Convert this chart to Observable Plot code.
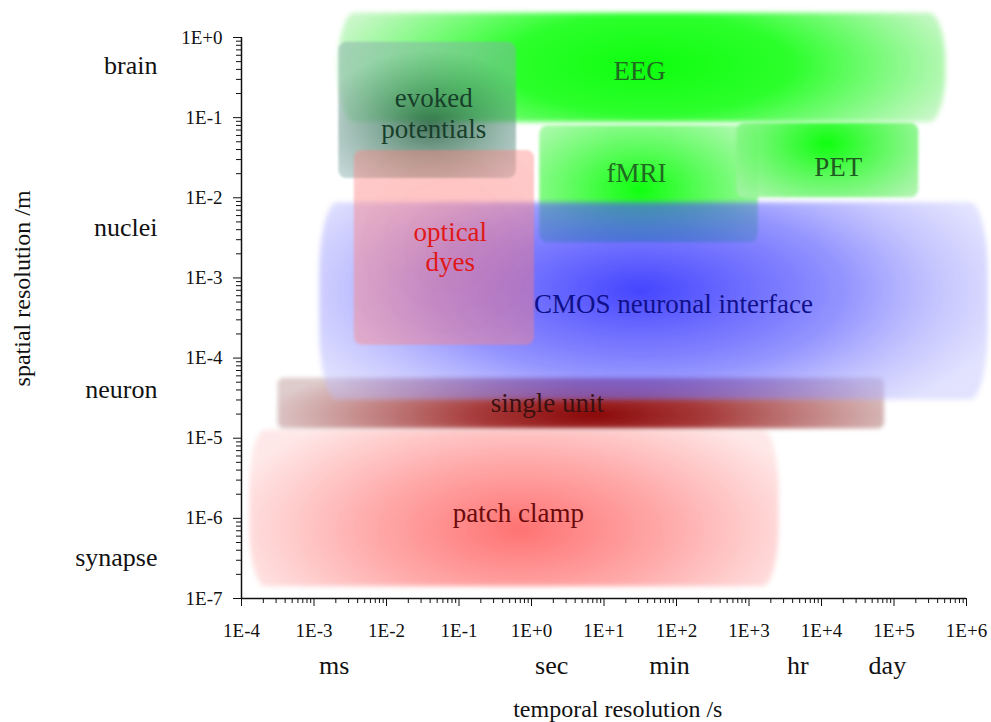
<!DOCTYPE html>
<html><head><meta charset="utf-8">
<script src="https://cdn.jsdelivr.net/npm/d3@7"></script>
<script src="https://cdn.jsdelivr.net/npm/@observablehq/plot@0.6"></script>
<style>html,body{margin:0;padding:0;background:#fff} svg text{font-family:'Liberation Serif','Times New Roman',serif}</style>
</head><body><div id="chart"></div>
<script>
// ---- data ----
const techniques = ["patch clamp", "single unit", "EEG", "fMRI", "PET", "evoked potentials", "CMOS neuronal interface", "optical dyes"];
const tStart = [1.3e-4, 3.2e-4, 2.2e-3, 1.3, 680, 2.2e-3, 1.2e-3, 3.6e-3];   // seconds
const tEnd   = [2.6e3, 7.4e4, 5.2e5, 1350, 2.2e5, 0.62, 2.0e6, 1.1];
const sLow   = [1.4e-7, 1.3e-5, 0.087, 2.75e-3, 0.01, 0.0174, 3.0e-5, 1.45e-4]; // metres
const sHigh  = [1.26e-5, 5.6e-5, 2.0, 0.079, 0.085, 0.87, 8.7e-3, 0.039];
const labelText = ["patch clamp", "single unit", "EEG", "fMRI", "PET", "evoked\npotentials", "CMOS neuronal interface", "optical\ndyes"];
const labelT = [0.66, 1.66, 31, 28, 1.7e4, 0.045, 91, 0.076];
const labelS = [1.2e-6, 2.8e-5, 0.39, 0.021, 0.025, 0.115, 4.8e-4, 2.5e-3];

const xTicks = [1e-4, 1e-3, 1e-2, 1e-1, 1e0, 1e1, 1e2, 1e3, 1e4, 1e5, 1e6];
const xTickLabels = ["1E-4", "1E-3", "1E-2", "1E-1", "1E+0", "1E+1", "1E+2", "1E+3", "1E+4", "1E+5", "1E+6"];
const yTicks = [1e-7, 1e-6, 1e-5, 1e-4, 1e-3, 1e-2, 1e-1, 1e0];
const yTickLabels = ["1E-7", "1E-6", "1E-5", "1E-4", "1E-3", "1E-2", "1E-1", "1E+0"];

const timeUnits = ["ms", "sec", "min", "hr", "day"];
const timeUnitPos = [1.9e-3, 1.9, 80, 4700, 8.1e4];
const scaleNames = ["brain", "nuclei", "neuron", "synapse"];
const scalePos = [0.45, 4.2e-3, 4.0e-5, 3.2e-7];

// ---- styles (kept apart from the data) ----
// gradient: centred on the label (+ pixel offset gdx/gdy), ellipse radii grx/gry, stops [offset, colour, opacity]
const look = {
  "patch clamp": {gdx: 2, gdy: 18, grx: 300, gry: 140, stops: [[0, "#ff6e6e", 0.97], [0.5, "#ffa6a6", 0.95], [1, "#ffe6e6", 0.92]], rx: 16, ry: 60, blur: 2.5, text: "#6a0a0a"},
  "single unit": {gdx: 45, gdy: 13, grx: 330, gry: 60, stops: [[0, "#8a0606", 1], [0.35, "#a43434", 0.97], [1, "#dcc8c8", 0.92]], rx: 6, ry: 6, blur: 2, text: "#3a1010"},
  "EEG": {gdx: 10, gdy: -5, grx: 320, gry: 110, stops: [[0, "#0eff0e", 1], [0.45, "#2cff2c", 1], [1, "#c4f6c4", 0.95]], rx: 16, ry: 50, blur: 2.5, text: "#1f6b1f"},
  "fMRI": {gdx: 4, gdy: 18, grx: 150, gry: 95, stops: [[0, "#0eff0e", 1], [1, "#b0f8b0", 0.9]], rx: 8, ry: 8, blur: 1.5, text: "#1f6b1f"},
  "PET": {gdx: -11, gdy: -22, grx: 120, gry: 75, stops: [[0, "#0eff0e", 1], [1, "#a8f2a8", 0.88]], rx: 8, ry: 8, blur: 1.5, text: "#1f5a1f"},
  "evoked potentials": {gdx: -3, gdy: 13, grx: 115, gry: 75, stops: [[0, "#0a4a28", 0.75], [0.5, "#3e7a62", 0.6], [1, "#8aaeae", 0.5]], rx: 8, ry: 8, blur: 1.2, text: "#173f2a"},
  "CMOS neuronal interface": {gdx: -33, gdy: -13, grx: 380, gry: 160, stops: [[0, "#2626ff", 0.86], [0.4, "#4848ff", 0.7], [0.55, "#5050ff", 0.6], [0.8, "#9090ff", 0.5], [1, "#c0c0ff", 0.45]], rx: 18, ry: 70, blur: 2.5, text: "#10108a"},
  "optical dyes": {gdx: 0, gdy: 0, grx: 160, gry: 160, stops: [[0, "#ff7070", 0.45], [1, "#ff8a8a", 0.42]], rx: 8, ry: 8, blur: 1.2, text: "#e01818"}
};

const minor = (lo, hi) => {
  const out = [];
  for (let e = lo; e < hi; e++) for (let m = 2; m <= 9; m++) out.push(m * Math.pow(10, e));
  return out;
};
const xMinor = minor(-4, 6);
const yMinor = minor(-7, 0);
const xLab = new Map(xTicks.map((t, i) => [t, xTickLabels[i]]));
const yLab = new Map(yTicks.map((t, i) => [t, yTickLabels[i]]));
const idx = techniques.map((_, i) => i);

const plot = Plot.plot({
  width: 991, height: 722,
  marginLeft: 241, marginRight: 25, marginTop: 37, marginBottom: 124,
  x: {type: "log", domain: [1e-4, 1e6]},
  y: {type: "log", domain: [1e-7, 1]},
  style: {fontFamily: "'Liberation Serif', 'Times New Roman', serif", fontSize: "19px", color: "#111", background: "#fff", overflow: "visible"},
  marks: [
    ...idx.map(i => {
      const L = look[techniques[i]];
      return Plot.rect([i], {
        x1: j => tStart[j], x2: j => tEnd[j], y1: j => sLow[j], y2: j => sHigh[j],
        fill: `url(#grad${i})`, rx: L.rx, ry: L.ry, imageFilter: `blur(${L.blur}px)`
      });
    }),
    Plot.text(idx, {
      x: i => labelT[i], y: i => labelS[i],
      text: i => labelText[i], fill: i => look[techniques[i]].text,
      fontSize: 27, lineHeight: 1.12
    }),
    Plot.ruleX([1e-4], {stroke: "#111", strokeWidth: 1.5}),
    Plot.ruleY([1e-7], {stroke: "#111", strokeWidth: 1.5}),
    Plot.axisX(xMinor, {tickSize: 5, tickFormat: () => "", stroke: "#111"}),
    Plot.axisY(yMinor, {tickSize: 5, tickFormat: () => "", stroke: "#111"}),
    Plot.axisX(xTicks, {tickSize: 8, tickPadding: 17, tickFormat: d => xLab.get(d), fontSize: 19, fill: "#111", stroke: "#111"}),
    Plot.axisY(yTicks, {tickSize: 8, tickPadding: 11, tickFormat: d => yLab.get(d), fontSize: 19, fill: "#111", stroke: "#111"}),
    Plot.text(timeUnits, {x: (d, i) => timeUnitPos[i], text: d => d, frameAnchor: "bottom", dy: 67, lineAnchor: "middle", fontSize: 26, fill: "#111"}),
    Plot.text(scaleNames, {y: (d, i) => scalePos[i], text: d => d, frameAnchor: "left", dx: -84, textAnchor: "end", fontSize: 26, fill: "#111"}),
    Plot.text(["temporal resolution /s"], {x: 15.5, frameAnchor: "bottom", dy: 111, lineAnchor: "middle", textAnchor: "middle", fontSize: 24, fill: "#111"}),
    Plot.text(["spatial resolution /m"], {y: 7.4e-4, frameAnchor: "left", dx: -219, rotate: -90, textAnchor: "middle", lineAnchor: "middle", fontSize: 24, fill: "#111"})
  ]
});

// gradient definitions for the soft-coloured bands (centres come from the plot's own scales)
const sx = plot.scale("x"), sy = plot.scale("y");
const defs = d3.select(plot).insert("defs", ":first-child");
idx.forEach(i => {
  const L = look[techniques[i]];
  const px = sx.apply(labelT[i]) + L.gdx, py = sy.apply(labelS[i]) + L.gdy;
  const g = defs.append("radialGradient").attr("id", `grad${i}`)
    .attr("gradientUnits", "userSpaceOnUse")
    .attr("cx", 0).attr("cy", 0).attr("r", 1)
    .attr("gradientTransform", `translate(${px},${py}) scale(${L.grx},${L.gry})`);
  L.stops.forEach(([o, c, a]) => g.append("stop").attr("offset", o).attr("stop-color", c).attr("stop-opacity", a));
});

document.getElementById("chart").appendChild(plot);
</script>
</body></html>
